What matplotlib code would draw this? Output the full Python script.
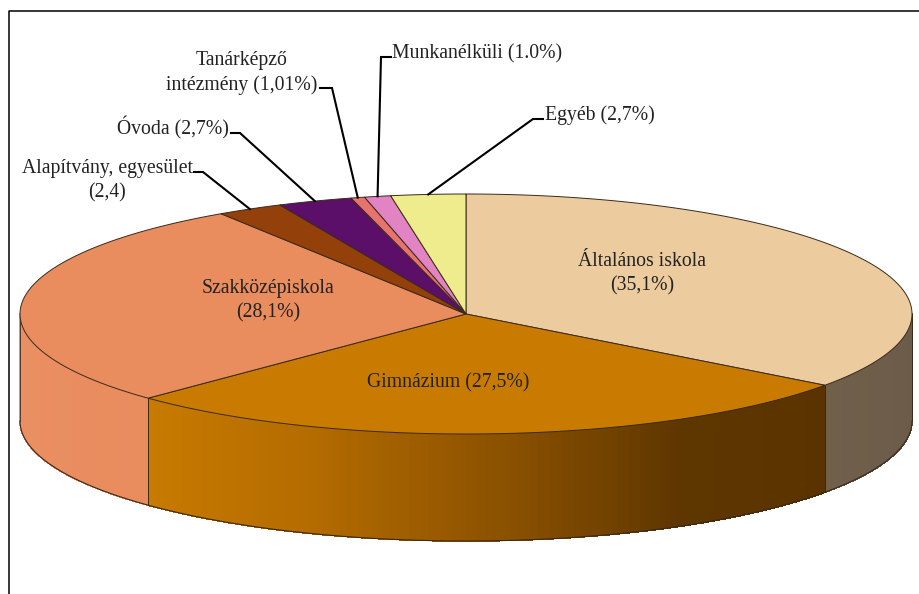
import numpy as np
import matplotlib
matplotlib.use("Agg")
import matplotlib.pyplot as plt
from matplotlib.colors import to_rgb
from matplotlib.patches import Polygon

# clockwise from 12 o'clock, the way the slices are drawn
categories = ["Általános iskola", "Gimnázium", "Szakközépiskola", "Alapítvány, egyesület",
              "Óvoda", "Tanárképző intézmény", "Munkanélküli", "Egyéb"]
shares = [35.1, 27.5, 28.1, 2.4, 2.7, 0.5, 0.95, 2.7]  # as drawn, Tanárképző is thinner than its label
labels = ["Általános iskola\n(35,1%)", "Gimnázium (27,5%)", "Szakközépiskola\n(28,1%)",
          "Alapítvány, egyesület\n(2,4)", "Óvoda (2,7%)", "Tanárképző\nintézmény (1,01%)",
          "Munkanélküli (1.0%)", "Egyéb (2,7%)"]
top_colors = ["#eccb9e", "#c87b00", "#e98c5e", "#93400a", "#5b0f68", "#e8736e", "#e284c4", "#eeec8c"]
side_colors = [["#6a5a48", "#6f5f4b"], ["#5a3300", "#5e3600", "#8c5200", "#b56c00", "#c87b00"],
               ["#e98c5e", "#ea9064"], ["#93400a"], ["#5b0f68"], ["#e8736e"], ["#e284c4"], ["#eeec8c"]]

# pixel layout of the pie
cx, cy = 466, 314
rx, ry = 446, 120
depth = 107
edge = "#3a2a1a"

# label centre, then the elbow of the leader (None = label sits on the pie)
label_pos = [(642, 274), (448, 383), (268, 301), (107, 181), (173, 128), (242, 73), (477, 54), (600, 115)]
elbows = [None, None, None, [(194, 172), (203, 172)], [(231, 133), (240, 133)],
          [(320, 88), (332, 88)], [(391, 57), (381, 57)], [(543, 119), (533, 119)]]


def rim(theta):
    # theta in radians, clockwise from the top of the ellipse
    return cx + rx * np.sin(theta), cy - ry * np.cos(theta)


def main():
    plt.rcParams["font.family"] = ["Liberation Serif", "DejaVu Serif"]
    fig = plt.figure(figsize=(9.19, 5.94), dpi=100)
    ax = fig.add_axes([0, 0, 1, 1])
    ax.set_xlim(0, 919)
    ax.set_ylim(594, 0)
    ax.axis("off")

    # frame around the chart, only top and left show
    ax.plot([8.5, 8.5, 919], [594, 10.5, 10.5], color="black", lw=1.1, solid_capstyle="butt")

    fracs = np.array(shares) / sum(shares)
    bounds = np.concatenate([[0], np.cumsum(fracs)]) * 2 * np.pi

    # side wall, front half only
    for i in range(len(shares)):
        a0, a1 = max(bounds[i], np.pi / 2), min(bounds[i + 1], 3 * np.pi / 2)
        if a1 <= a0:
            continue
        stops = [to_rgb(c) for c in side_colors[i]]
        n = 120
        ts = np.linspace(a0, a1, n + 1)
        for k in range(n):
            pos = (k + 0.5) / n * (len(stops) - 1)
            j = min(int(pos), len(stops) - 2) if len(stops) > 1 else 0
            if len(stops) > 1:
                col = np.array(stops[j]) + (np.array(stops[j + 1]) - np.array(stops[j])) * (pos - j)
            else:
                col = stops[0]
            x0, y0 = rim(ts[k])
            x1, y1 = rim(ts[k + 1])
            # no antialiasing here, otherwise the strips show as thin stripes
            ax.add_patch(Polygon([(x0, y0), (x1, y1), (x1, y1 + depth), (x0, y0 + depth)],
                                 closed=True, fc=col, ec=col, lw=0.5, antialiased=False, zorder=2))
        x0, y0 = rim(a0)
        ax.plot([x0, x0], [y0, y0 + depth], color=edge, lw=0.7, zorder=3)

    # outline of the wall
    ts = np.linspace(np.pi / 2, 3 * np.pi / 2, 300)
    xs, ys = rim(ts)
    ax.plot(xs, ys + depth, color=edge, lw=0.8, zorder=3)
    ax.plot([xs[0], xs[0]], [ys[0], ys[0] + depth], color=edge, lw=0.6, zorder=3)
    ax.plot([xs[-1], xs[-1]], [ys[-1], ys[-1] + depth], color=edge, lw=0.6, zorder=3)

    # top face
    for i in range(len(shares)):
        ts = np.linspace(bounds[i], bounds[i + 1], 200)
        xs, ys = rim(ts)
        pts = [(cx, cy)] + list(zip(xs, ys))
        ax.add_patch(Polygon(pts, closed=True, fc=top_colors[i], ec=edge, lw=0.7, zorder=4))

    # labels and leaders
    for i, text in enumerate(labels):
        ax.text(label_pos[i][0], label_pos[i][1], text, ha="center", va="center", fontsize=14.2,
                color="#222222", linespacing=1.36, zorder=6)
        if elbows[i] is not None:
            mx, my = rim((bounds[i] + bounds[i + 1]) / 2)
            line = elbows[i] + [(mx, my)]
            ax.plot([p[0] for p in line], [p[1] for p in line], color="black", lw=1.5,
                    solid_joinstyle="miter", zorder=5)

    fig.savefig("out.png", dpi=100, facecolor="white")


if __name__ == "__main__":
    main()
